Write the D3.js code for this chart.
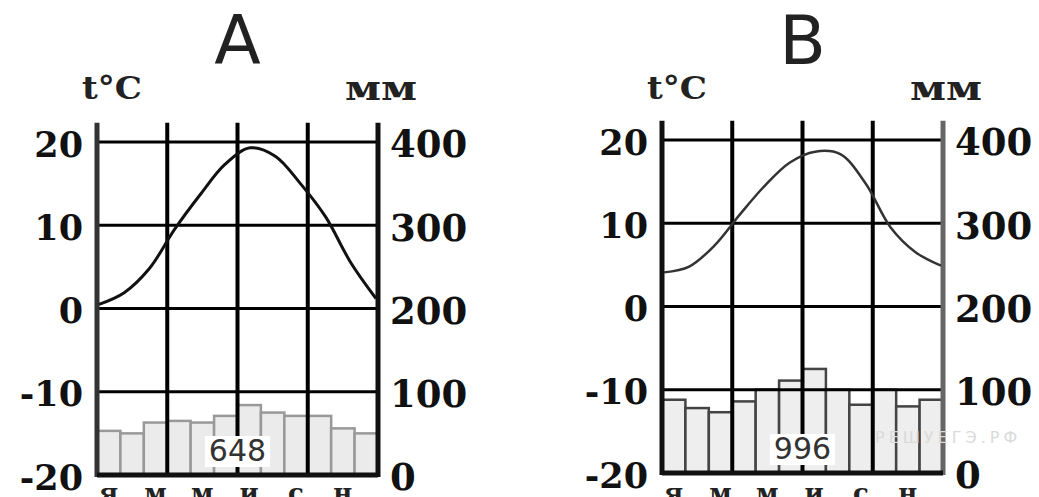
<!DOCTYPE html>
<html>
<head>
<meta charset="utf-8">
<script src="https://cdn.jsdelivr.net/npm/d3@7"></script>
<style>
  body { margin: 0; background: #fff; }
  svg { display: block; }
</style>
</head>
<body>
<div id="chart"></div>
<script>
// data
const months = ["я", "ф", "м", "а", "м", "и", "и", "а", "с", "о", "н", "д"];
const tempTicks = [20, 10, 0, -10, -20];
const precipTicks = [400, 300, 200, 100, 0];

const tempA = [0.5, 1.9, 4.8, 9.5, 13.6, 17.3, 19.3, 18.3, 15, 11, 5.5, 1.2];
const precipA = [53, 50, 63, 65, 63, 71, 84, 75, 71, 71, 56, 50];
const totalA = "648";

const tempB = [4.1, 4.8, 7.3, 11, 14.5, 17.3, 18.6, 18.3, 14.8, 9.5, 6.5, 4.9];
const precipB = [88, 78, 73, 86, 100, 111, 125, 100, 82, 100, 80, 88];
const totalB = "996";

const width = 1039, height = 497;

const svg = d3.select("#chart")
    .append("svg")
    .attr("width", width)
    .attr("height", height);

const drawClimate = (opts) => {
    const { title, temp, precip, total, left, right, top, bottom,
            barStroke, barFill, lineColor, lineWidth, leftAxisColor, rightAxisColor } = opts;

    const g = svg.append("g");

    const yTemp = d3.scaleLinear().domain([-20, 20]).range([bottom, top]);
    const yPrec = d3.scaleLinear().domain([0, 400]).range([bottom, top]);
    const xBand = d3.scaleBand().domain(d3.range(12)).range([left, right]).padding(0);
    const xLine = d3.scaleLinear().domain([0, 11]).range([left + 2, right - 2]);
    const xEdge = d3.scaleLinear().domain([0, 12]).range([left, right]);

    // title
    g.append("text")
        .text(title)
        .attr("x", (left + right) / 2)
        .attr("y", 64)
        .attr("text-anchor", "middle")
        .attr("font-family", "DejaVu Sans")
        .attr("font-size", 68)
        .attr("fill", "#222");

    // axis titles
    g.append("text")
        .text("t°C")
        .attr("x", left - 15)
        .attr("y", 99)
        .attr("font-family", "DejaVu Serif")
        .attr("font-weight", "bold")
        .attr("font-size", 31)
        .attr("textLength", 60)
        .attr("lengthAdjust", "spacingAndGlyphs")
        .attr("fill", "#222");

    g.append("text")
        .text("мм")
        .attr("x", right + 3)
        .attr("y", 100)
        .attr("text-anchor", "middle")
        .attr("font-family", "DejaVu Serif")
        .attr("font-weight", "bold")
        .attr("font-size", 36)
        .attr("textLength", 72)
        .attr("lengthAdjust", "spacingAndGlyphs")
        .attr("fill", "#222");

    // bars
    g.selectAll(".bar")
        .data(precip)
        .join("rect")
        .attr("x", (d, i) => xBand(i))
        .attr("y", d => yPrec(d))
        .attr("width", xBand.bandwidth())
        .attr("height", d => yPrec(0) - yPrec(d))
        .attr("fill", barFill)
        .attr("stroke", barStroke)
        .attr("stroke-width", 2.5);

    // horizontal grid
    g.selectAll(".hgrid")
        .data([20, 10, 0, -10])
        .join("line")
        .attr("x1", left)
        .attr("x2", right)
        .attr("y1", d => yTemp(d))
        .attr("y2", d => yTemp(d))
        .attr("stroke", "#000")
        .attr("stroke-width", 3);

    // vertical grid at season boundaries
    const gridTop = yTemp(22.3);
    g.selectAll(".vgrid")
        .data([3, 6, 9])
        .join("line")
        .attr("x1", d => xEdge(d))
        .attr("x2", d => xEdge(d))
        .attr("y1", gridTop)
        .attr("y2", bottom)
        .attr("stroke", "#000")
        .attr("stroke-width", 4);

    // frame
    g.append("line")
        .attr("x1", left).attr("x2", left)
        .attr("y1", gridTop).attr("y2", bottom + 2)
        .attr("stroke", leftAxisColor).attr("stroke-width", 5);
    g.append("line")
        .attr("x1", right).attr("x2", right)
        .attr("y1", gridTop).attr("y2", bottom + 2)
        .attr("stroke", rightAxisColor).attr("stroke-width", 5);
    g.append("line")
        .attr("x1", left).attr("x2", right)
        .attr("y1", bottom).attr("y2", bottom)
        .attr("stroke", "#111").attr("stroke-width", 5);

    // temperature curve
    const line = d3.line()
        .x((d, i) => xLine(i))
        .y(d => yTemp(d))
        .curve(d3.curveCatmullRom.alpha(0.5));

    g.append("path")
        .attr("d", line(temp))
        .attr("fill", "none")
        .attr("stroke", lineColor)
        .attr("stroke-width", lineWidth);

    // total label
    const lbl = g.append("text")
        .text(total)
        .attr("x", xEdge(6))
        .attr("y", bottom - 14)
        .attr("text-anchor", "middle")
        .attr("font-family", "DejaVu Sans")
        .attr("font-size", 30)
        .attr("fill", "#333");
    const bb = lbl.node().getBBox();
    g.insert("rect", () => lbl.node())
        .attr("x", bb.x - 4)
        .attr("y", bb.y + 3)
        .attr("width", bb.width + 8)
        .attr("height", bb.height - 4)
        .attr("fill", "#fff");

    // axes
    const axisLeft = d3.axisLeft(yTemp)
        .tickValues(tempTicks)
        .tickFormat(d => String(d))
        .tickSize(0)
        .tickPadding(10);
    g.append("g")
        .attr("transform", `translate(${left - 4},0)`)
        .call(axisLeft)
        .call(a => a.select(".domain").remove())
        .selectAll("text")
        .attr("font-family", "DejaVu Serif")
        .attr("font-weight", "bold")
        .attr("font-size", 35)
        .attr("fill", "#111")
        .attr("dy", "0.4em");

    const axisRight = d3.axisRight(yPrec)
        .tickValues(precipTicks)
        .tickFormat(d => String(d))
        .tickSize(0)
        .tickPadding(8);
    g.append("g")
        .attr("transform", `translate(${right + 4},0)`)
        .call(axisRight)
        .call(a => a.select(".domain").remove())
        .selectAll("text")
        .attr("font-family", "DejaVu Serif")
        .attr("font-weight", "bold")
        .attr("font-size", 37)
        .attr("fill", "#111")
        .attr("dy", "0.4em");

    // month labels (every other month)
    g.selectAll(".month")
        .data(months)
        .join("text")
        .filter((d, i) => i % 2 === 0)
        .text(d => d)
        .attr("x", (d, i) => xBand(i * 2) + xBand.bandwidth() / 2)
        .attr("y", 502)
        .attr("text-anchor", "middle")
        .attr("font-family", "DejaVu Serif")
        .attr("font-weight", "bold")
        .attr("font-size", 26)
        .attr("fill", "#222");
};

drawClimate({
    title: "А", temp: tempA, precip: precipA, total: totalA,
    left: 97, right: 378, top: 142, bottom: 475,
    barStroke: "#999", barFill: "#ebebeb", lineColor: "#111", lineWidth: 3,
    leftAxisColor: "#333", rightAxisColor: "#111"
});

drawClimate({
    title: "В", temp: tempB, precip: precipB, total: totalB,
    left: 662, right: 943, top: 140, bottom: 473,
    barStroke: "#444", barFill: "#eeeeee", lineColor: "#333", lineWidth: 2.5,
    leftAxisColor: "#111", rightAxisColor: "#666"
});

// watermark
svg.append("text")
    .text("РЕШУЕГЭ.РФ")
    .attr("x", 875)
    .attr("y", 443)
    .attr("font-family", "DejaVu Sans")
    .attr("font-size", 16)
    .attr("letter-spacing", 4)
    .attr("fill", "#dadada");
</script>
</body>
</html>
